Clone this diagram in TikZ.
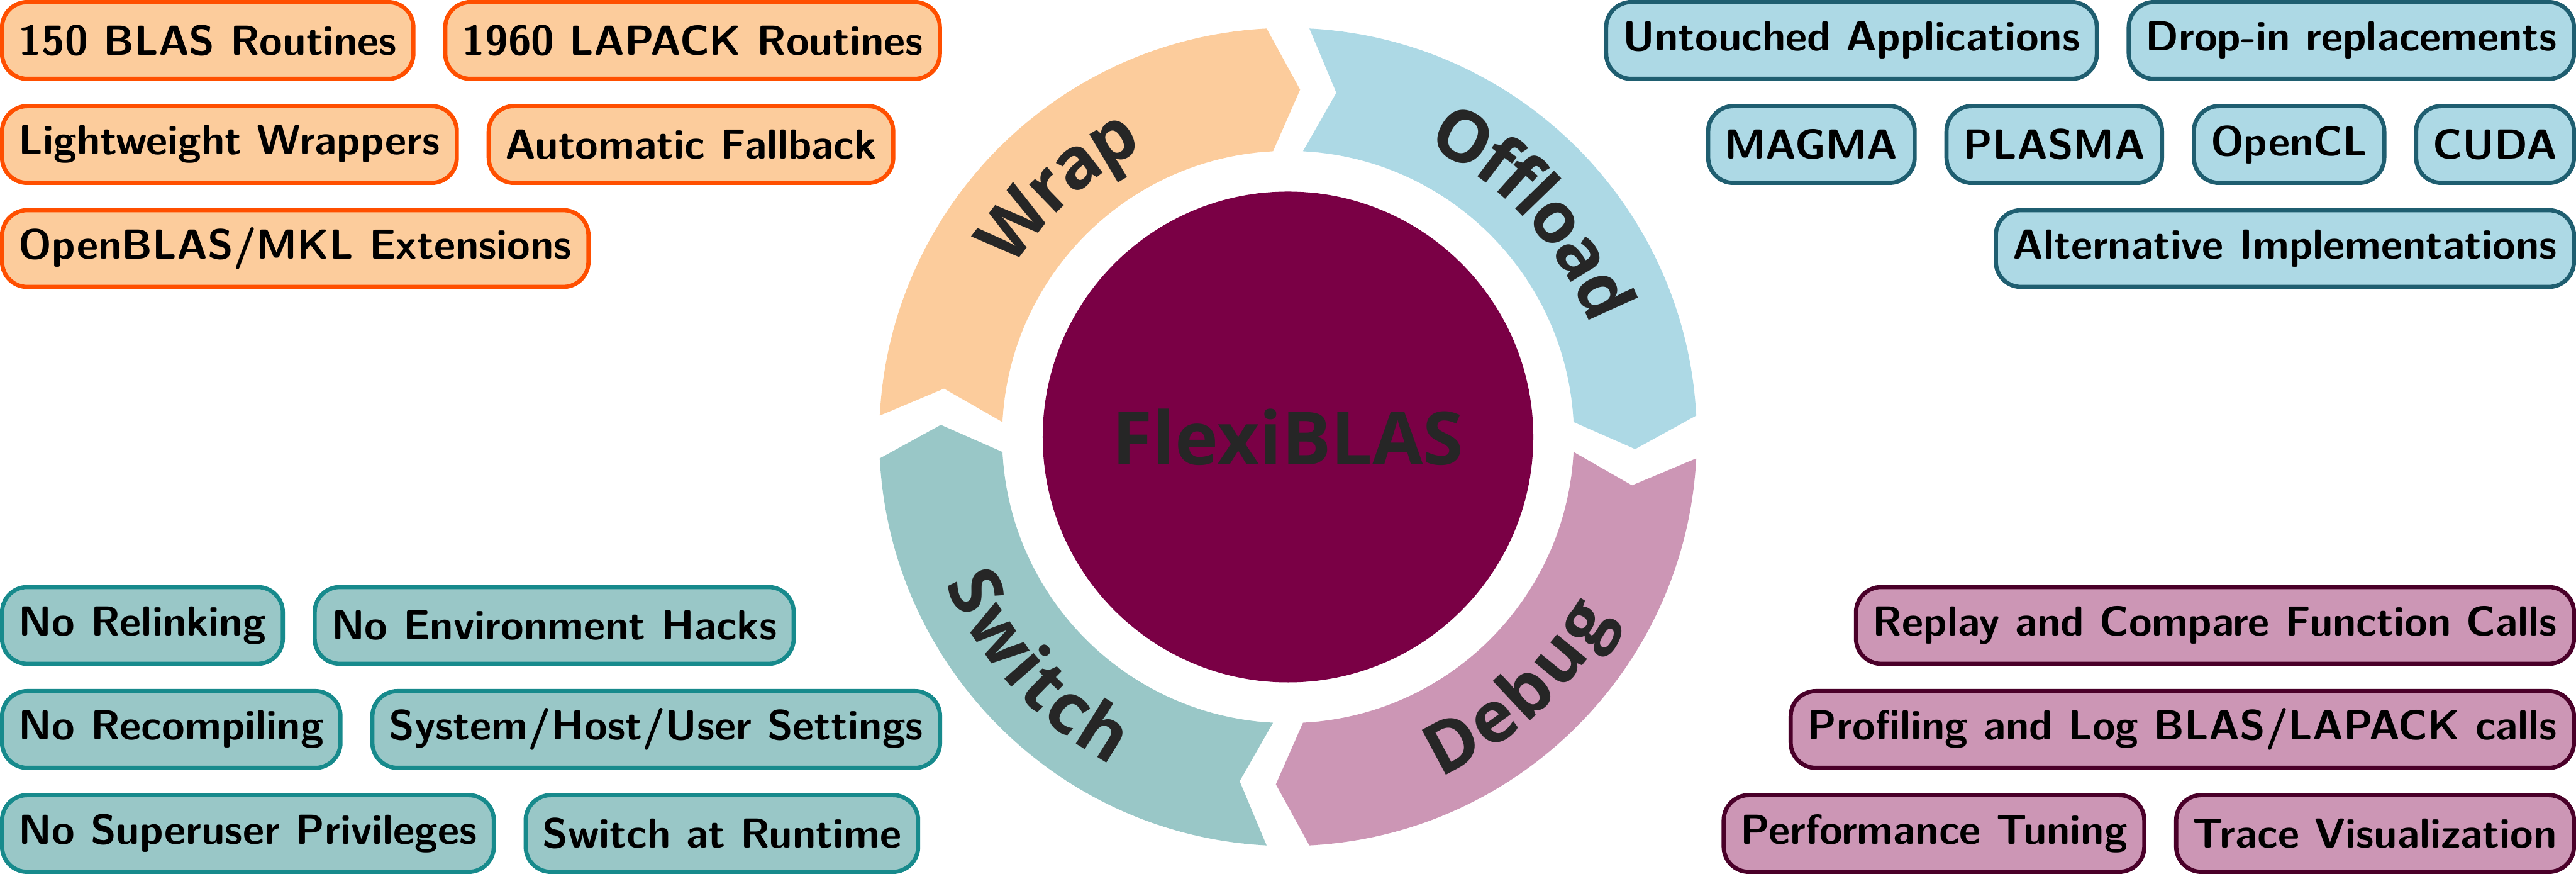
\documentclass[tikz,border=0pt]{standalone}
\usepackage{fontspec}
\newfontfamily\ringfont{Open Sans}
\usetikzlibrary{positioning}
\usetikzlibrary{decorations.text}
\definecolor{c1}{rgb}{0.99, 0.80, 0.61}
\definecolor{c2}{rgb}{0.68, 0.85, 0.90}
\definecolor{c3}{rgb}{0.80, 0.59, 0.71}
\definecolor{c4}{rgb}{0.60, 0.78, 0.78}
\definecolor{c5}{rgb}{0.48, 0.00, 0.27}
\definecolor{c6}{rgb}{0.15, 0.15, 0.15}
\definecolor{b1}{rgb}{1.00, 0.31, 0.00}
\definecolor{b2}{rgb}{0.12, 0.37, 0.44}
\definecolor{b3}{rgb}{0.29, 0.00, 0.16}
\definecolor{b4}{rgb}{0.09, 0.54, 0.55}
\def\rout{97.5pt}
\def\rmid{82.85pt}
\def\rin{68.2pt}
\tikzset{
  item_box/.style = {draw, rounded corners=6pt, line width=1pt, minimum height=18.3pt, inner xsep=4pt, font=\sffamily\bfseries},
  box_wrap/.style = {item_box, fill=c1, draw=b1},
  box_offload/.style = {item_box, fill=c2, draw=b2},
  box_debug/.style = {item_box, fill=c3, draw=b3},
  box_switch/.style = {item_box, fill=c4, draw=b4},
  ring_label/.style = {decorate, decoration={text along path, text align=center, raise=-6pt,
      text={|\ringfont\bfseries\fontsize{17}{20}\selectfont\color{c6}|#1}}},
}

\begin{document}
\begin{tikzpicture}[node distance=5.4pt and 6.6pt]
\useasboundingbox (-307.19pt,-104.17pt) rectangle (307.19pt,104.17pt);

% ring
\foreach \a/\fc in {177/c1, 87/c2, -3/c3, -93/c4}
  \fill[\fc] (\a:\rout) arc[start angle=\a, end angle=\a-84, radius=\rout] -- ({\a-89}:\rmid)
    -- ({\a-84}:\rin) arc[start angle=\a-84, end angle=\a, radius=\rin] -- ({\a-5}:\rmid) -- cycle;

\path[ring_label=Wrap] (177:\rmid) arc[start angle=177, end angle=88, radius=\rmid];
\path[ring_label=Offload] (87:\rmid) arc[start angle=87, end angle=-2, radius=\rmid];
\path[ring_label=Debug] (-92:\rmid) arc[start angle=-92, end angle=-3, radius=\rmid];
\path[ring_label=Switch] (178:\rmid) arc[start angle=178, end angle=267, radius=\rmid];

\node[circle, fill=c5, minimum size=117pt, inner sep=0pt, text=c6, font=\ringfont\bfseries\fontsize{17.5}{20}\selectfont] (core) at (0,0) {FlexiBLAS};

% wrap
\node[box_wrap, anchor=west] (blas) at (-307.19pt, 94.52pt) {150 BLAS Routines};
\node[box_wrap, right=of blas] (lapack) {1960 LAPACK Routines};
\node[box_wrap, anchor=west] (wrappers) at (-307.19pt, 69.72pt) {Lightweight Wrappers};
\node[box_wrap, right=of wrappers] (fallback) {Automatic Fallback};
\node[box_wrap, anchor=west] (ext) at (-307.19pt, 44.92pt) {OpenBLAS/MKL Extensions};

% offload
\node[box_offload, anchor=east] (dropin) at (307.19pt, 94.52pt) {Drop-in replacements};
\node[box_offload, left=of dropin] (untouched) {Untouched Applications};
\node[box_offload, anchor=east] (cuda) at (307.19pt, 69.72pt) {CUDA};
\node[box_offload, left=of cuda] (opencl) {OpenCL};
\node[box_offload, left=of opencl] (plasma) {PLASMA};
\node[box_offload, left=of plasma] (magma) {MAGMA};
\node[box_offload, anchor=east] (altimpl) at (307.19pt, 44.92pt) {Alternative Implementations};

% switch
\node[box_switch, anchor=west] (relink) at (-307.19pt, -44.92pt) {No Relinking};
\node[box_switch, right=of relink] (envhacks) {No Environment Hacks};
\node[box_switch, anchor=west] (recomp) at (-307.19pt, -69.72pt) {No Recompiling};
\node[box_switch, right=of recomp] (settings) {System/Host/User Settings};
\node[box_switch, anchor=west] (superuser) at (-307.19pt, -94.52pt) {No Superuser Privileges};
\node[box_switch, right=of superuser] (runtime) {Switch at Runtime};

% debug
\node[box_debug, anchor=east] (replay) at (307.19pt, -44.92pt) {Replay and Compare Function Calls};
\node[box_debug, anchor=east] (profiling) at (307.19pt, -69.72pt) {Profiling and Log BLAS/LAPACK calls};
\node[box_debug, anchor=east] (trace) at (307.19pt, -94.52pt) {Trace Visualization};
\node[box_debug, left=of trace] (tuning) {Performance Tuning};

\end{tikzpicture}
\end{document}
